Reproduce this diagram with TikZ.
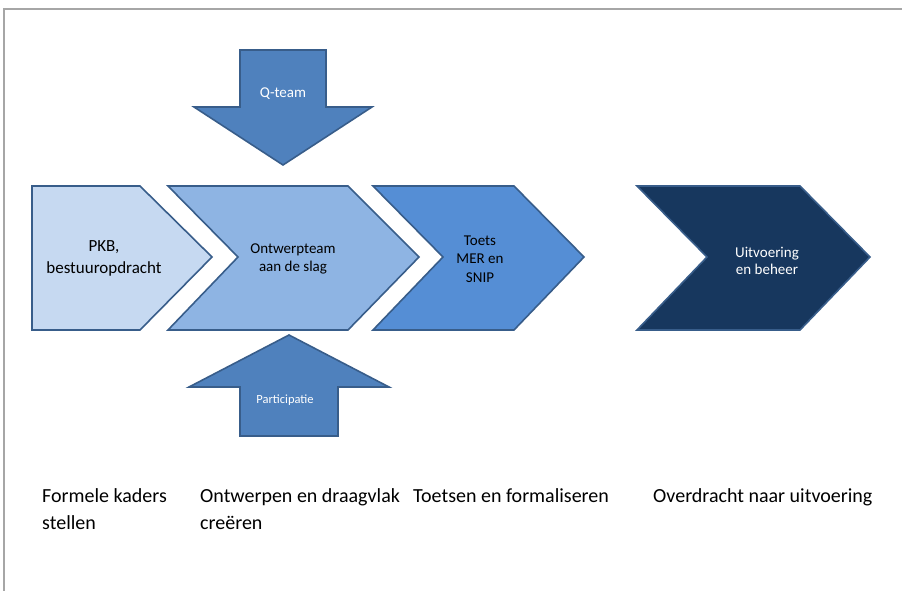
\documentclass[tikz,border=0pt]{standalone}
\usepackage{fontspec}
\setmainfont{Carlito}
\definecolor{fase1}{HTML}{C6D9F1}
\definecolor{fase2}{HTML}{8EB4E3}
\definecolor{fase3}{HTML}{558ED5}
\definecolor{fase4}{HTML}{17375E}
\definecolor{pijlblauw}{HTML}{4F81BD}
\definecolor{rand}{HTML}{385D8A}
\definecolor{kader}{HTML}{A6A6A6}
\begin{document}
\begin{tikzpicture}[x=1pt,y=-1pt]
      \useasboundingbox (0,0) rectangle (902,591);
      \draw[kader,line width=2pt] (4,591) -- (4,9) -- (902,9);
      \begin{scope}[draw=rand,line width=1.6pt,line join=miter]
        \draw[fill=fase1] (32,186) -- (140,186) -- (212,257) -- (140,330) -- (32,330) -- cycle;
        \draw[fill=fase2] (168,186) -- (348,186) -- (419,257) -- (348,330) -- (168,330) -- (238,257) -- cycle;
        \draw[fill=fase3] (373,186) -- (514,186) -- (584,257) -- (514,330) -- (373,330) -- (443,257) -- cycle;
        \draw[fill=fase4] (637,186) -- (800,186) -- (870,257) -- (800,330) -- (637,330) -- (707,257) -- cycle;
        \draw[fill=pijlblauw] (240,50) -- (326,50) -- (326,107) -- (372,107) -- (283,165) -- (194,107) -- (240,107) -- cycle;
        \draw[fill=pijlblauw] (240,436) -- (338,436) -- (338,387) -- (389,387) -- (289,335) -- (189,387) -- (240,387) -- cycle;
      \end{scope}
      \begin{scope}[every node/.style={align=center,inner sep=0pt}]
        \node[font=\fontsize{17}{22}\selectfont] (pkb) at (104,258) {PKB,\\bestuuropdracht};
        \node[font=\fontsize{15}{18}\selectfont] (ontwerp) at (293,259) {Ontwerpteam\\aan de slag};
        \node[font=\fontsize{15}{18.5}\selectfont] (toets) at (480,259) {Toets\\MER en\\SNIP};
        \node[font=\fontsize{15}{17}\selectfont,text=white] (uitvoering) at (767,261) {Uitvoering\\en beheer};
        \node[font=\fontsize{15}{18}\selectfont,text=white] (qteam) at (283,94) {Q-team};
        \node[font=\fontsize{12.5}{15}\selectfont,text=white] (participatie) at (285,400) {Participatie};
      \end{scope}
      % base anchor sits on the last line
      \begin{scope}[every node/.style={align=left,anchor=base west,inner sep=0pt,font=\fontsize{20}{27}\selectfont}]
        \node (kaders) at (42,529) {Formele kaders\\stellen};
        \node (draagvlak) at (200,529) {Ontwerpen en draagvlak\\creëren};
        \node (formaliseren) at (413,502) {Toetsen en formaliseren};
        \node (overdracht) at (653,502) {Overdracht naar uitvoering};
      \end{scope}
    \end{tikzpicture}
\end{document}
